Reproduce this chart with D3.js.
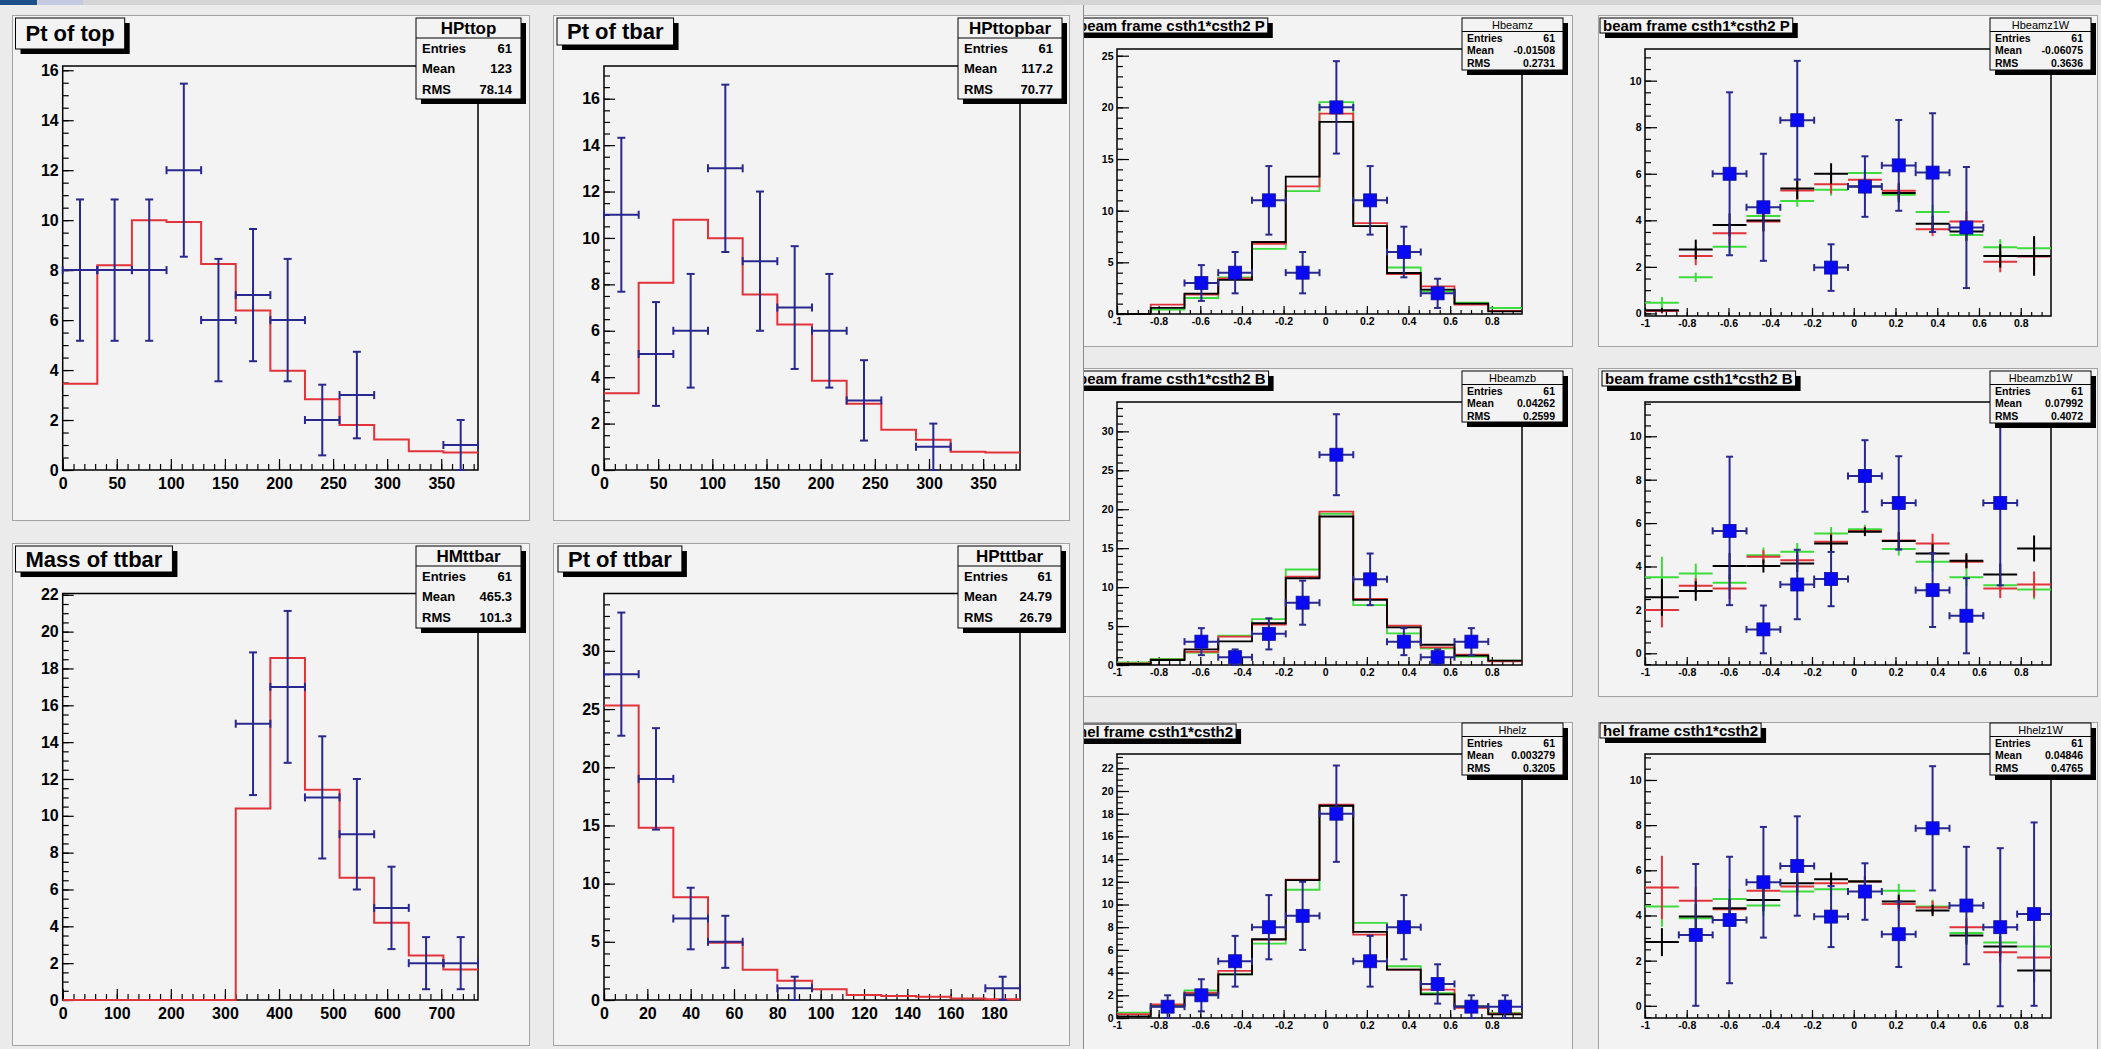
<!DOCTYPE html>
<html>
<head>
<meta charset="utf-8">
<title>ttbar histograms</title>
<script src="https://cdn.jsdelivr.net/npm/d3@7"></script>
<style>
  body { margin: 0; background: #ebebeb; }
  svg { display: block; }
</style>
</head>
<body>
<script>

// left canvas : red = expectation, blue = data counts
const ptTopMC    = [3.45, 8.2, 10.0, 9.93, 8.25, 6.38, 3.97, 2.83, 1.8, 1.22, 0.75, 0.7];
const ptTopData  = [8, 8, 8, 12, 6, 7, 6, 2, 3, 0, 0, 1];
const ptTbarMC   = [3.31, 8.07, 10.78, 9.99, 7.56, 6.27, 3.85, 2.85, 1.73, 1.3, 0.79, 0.75];
const ptTbarData = [11, 5, 6, 13, 9, 7, 6, 3, 0, 1, 0, 0];
const massMC     = [0, 0, 0, 0, 0, 10.4, 18.57, 11.41, 6.64, 4.2, 2.42, 1.65];
const massData   = [0, 0, 0, 0, 0, 15, 17, 11, 9, 5, 2, 2];
const ptTtMC     = [25.3, 14.8, 8.82, 4.93, 2.61, 1.65, 0.93, 0.44, 0.35, 0.29, 0.12, 0.06];
const ptTtData   = [28, 19, 7, 5, 0, 1, 0, 0, 0, 0, 0, 1];

// right canvas, step histograms : three expectations + data counts
const beamzData  = [0, 0, 3, 4, 11, 4, 20, 11, 6, 2, 0, 0];
const beamzBlack = [0, 0.6, 1.97, 3.3, 6.97, 13.3, 18.6, 8.5, 3.97, 2.35, 1.0, 0.25];
const beamzRed   = [0, 0.9, 1.87, 3.45, 6.8, 12.35, 19.4, 8.8, 3.87, 2.68, 0.9, 0.3];
const beamzGreen = [0, 0.42, 1.55, 3.55, 6.3, 11.9, 20.5, 8.5, 4.5, 2.2, 1.1, 0.58];

const beamzbData  = [0, 0, 3, 1, 4, 8, 27, 11, 3, 1, 3, 0];
const beamzbBlack = [0.13, 0.64, 2.0, 3.04, 5.36, 11.14, 19.07, 8.36, 4.84, 2.6, 1.2, 0.56];
const beamzbRed   = [0.2, 0.7, 1.7, 3.64, 5.2, 11.36, 19.7, 8.5, 5.06, 2.27, 1.33, 0.47];
const beamzbGreen = [0.34, 0.77, 1.6, 3.77, 5.9, 12.26, 19.4, 7.7, 4.07, 2.14, 1.07, 0.56];

const helzData  = [0, 1, 2, 5, 8, 9, 18, 5, 8, 3, 1, 1];
const helzBlack = [0.15, 1.03, 2.09, 3.85, 6.94, 12.15, 18.7, 7.59, 4.26, 2.09, 1.03, 0.32];
const helzRed   = [0.35, 1.2, 2.23, 4.15, 6.9, 12.2, 18.8, 7.35, 4.26, 2.5, 0.9, 0.38];
const helzGreen = [0.47, 1.1, 2.44, 3.85, 6.56, 11.3, 18.7, 8.38, 4.56, 2.2, 1.0, 0.44];

// right canvas, weighted versions : values and errors
const beamzWData     = [0, 0, 6.0, 4.56, 8.3, 1.97, 5.45, 6.36, 6.05, 3.69, 0, 0];
const beamzWDataErr  = [0, 0, 3.5, 2.3, 2.55, 1.0, 1.3, 1.95, 2.55, 2.6, 0, 0];
const beamzWBlack    = [0.14, 2.75, 3.8, 3.99, 5.37, 6.0, 5.45, 5.17, 3.85, 3.52, 2.47, 2.47];
const beamzWBlackErr = [0.1, 0.42, 0.5, 0.45, 0.45, 0.45, 0.35, 0.4, 0.35, 0.4, 0.5, 0.85];
const beamzWRed      = [0.1, 2.47, 3.44, 3.95, 5.28, 5.55, 5.74, 5.27, 3.62, 3.95, 2.22, 2.45];
const beamzWRedErr   = [0.1, 0.4, 0.45, 0.45, 0.4, 0.4, 0.35, 0.35, 0.3, 0.45, 0.45, 0.6];
const beamzWGreen    = [0.46, 1.55, 2.87, 4.19, 4.83, 5.31, 6.03, 5.1, 4.36, 3.37, 2.84, 2.8];
const beamzWGreenErr = [0.25, 0.2, 0.3, 0.3, 0.25, 0.25, 0.25, 0.25, 0.3, 0.25, 0.35, 0.35];

const beamzbWData     = [0, 0, 5.64, 1.1, 3.17, 3.42, 8.17, 6.93, 2.91, 1.73, 6.93, 0];
const beamzbWDataErr  = [0, 0, 3.42, 1.1, 1.6, 1.25, 1.65, 2.15, 1.7, 1.73, 3.8, 0];
const beamzbWBlack    = [2.58, 2.87, 4.02, 4.02, 4.14, 5.06, 5.6, 5.17, 4.6, 4.26, 3.63, 4.83];
const beamzbWBlackErr = [0.85, 0.45, 0.6, 0.3, 0.4, 0.4, 0.2, 0.4, 0.45, 0.35, 0.5, 0.6];
const beamzbWRed      = [1.99, 3.11, 2.99, 4.45, 4.29, 5.14, 5.64, 5.2, 5.06, 4.22, 2.99, 3.17];
const beamzbWRedErr   = [0.8, 0.35, 0.5, 0.3, 0.35, 0.4, 0.2, 0.4, 0.45, 0.3, 0.45, 0.6];
const beamzbWGreen    = [3.5, 3.68, 3.25, 4.52, 4.68, 5.52, 5.72, 4.8, 4.22, 3.5, 3.14, 2.94];
const beamzbWGreenErr = [0.95, 0.45, 0.4, 0.35, 0.4, 0.3, 0.2, 0.3, 0.45, 0.4, 0.3, 0.45];

const helzWData     = [0, 3.14, 3.8, 5.47, 6.19, 3.95, 5.06, 3.17, 7.86, 4.44, 3.48, 4.06];
const helzWDataErr  = [0, 3.14, 2.8, 2.45, 2.2, 1.35, 1.25, 1.45, 2.75, 2.6, 3.5, 4.06];
const helzWBlack    = [2.82, 3.95, 4.32, 4.69, 5.43, 5.6, 5.5, 4.62, 4.22, 3.11, 2.63, 1.56];
const helzWBlackErr = [0.62, 0.55, 0.4, 0.5, 0.4, 0.3, 0.25, 0.3, 0.25, 0.4, 0.45, 0.5];
const helzWRed      = [5.24, 4.65, 4.28, 5.1, 5.28, 5.43, 5.5, 4.51, 4.35, 3.48, 2.37, 2.14];
const helzWRedErr   = [1.4, 0.6, 0.4, 0.5, 0.4, 0.3, 0.2, 0.3, 0.3, 0.4, 0.45, 0.55];
const helzWGreen    = [4.4, 3.88, 4.73, 4.44, 5.06, 5.16, 5.53, 5.1, 4.4, 3.22, 2.8, 2.63];
const helzWGreenErr = [0.9, 0.6, 0.45, 0.45, 0.4, 0.3, 0.25, 0.3, 0.3, 0.4, 0.45, 0.5];

// texts of the title and stats boxes
const padTitles = ["Pt of top", "Pt of tbar", "Mass of ttbar", "Pt of ttbar",
    "beam frame csth1*csth2 P", "beam frame csth1*csth2 P",
    "beam frame csth1*csth2 B", "beam frame csth1*csth2 B",
    "hel frame csth1*csth2", "hel frame csth1*csth2"];
const statNames = ["HPttop", "HPttopbar", "HMttbar", "HPtttbar", "Hbeamz", "Hbeamz1W",
    "Hbeamzb", "Hbeamzb1W", "Hhelz", "Hhelz1W"];
const statEntries = ["61", "61", "61", "61", "61", "61", "61", "61", "61", "61"];
const statMeans = ["123", "117.2", "465.3", "24.79", "-0.01508", "-0.06075",
    "0.04262", "0.07992", "0.003279", "0.04846"];
const statRms = ["78.14", "70.77", "101.3", "26.79", "0.2731", "0.3636",
    "0.2599", "0.4072", "0.3205", "0.4765"];

// axis ranges
const ptRange = [0, 384];
const massRange = [0, 768];
const ptttRange = [0, 192];
const cosRange = [-1, 0.945];

const RED = "#e2323a", GREEN = "#3ddc3d", BLACK = "#000000", NAVY = "#28288e", BLUE = "#0a0af2";
const FONT = "'Liberation Sans', Arial, Helvetica, sans-serif";

const leftStyle = {tickFont: 16, xMaj: 11, xMin: 6, yMaj: 11, yMin: 6, xPad: 8, yPad: 4,
    titleFont: 22, titlePad: 10, headFont: 17, headWeight: "bold", rowFont: 13,
    headH: 20, rowH: 20.5, labelX: 6, valueX: 9, cap: 4, marker: 0};
const rightStyle = {tickFont: 10.5, xMaj: 8, xMin: 4, yMaj: 12, yMin: 6, xPad: 4, yPad: 3.5,
    titleFont: 15, titlePad: 3, headFont: 11, headWeight: "normal", rowFont: 10.5,
    headH: 13.5, rowH: 12.5, labelX: 5, valueX: 8, cap: 3.5, marker: 13};

// pad layout (pixels), ranges and what goes in each pad
const pads = [
    {side: "L", pad: [12, 15, 518, 506], frame: [62.7, 66, 478, 470], title: [15.5, 18, 31],
     stats: [416, 18, 105, 81], xDom: ptRange, yDom: [0, 16.17], xStep: [50, 10], yStep: [2, 0.5],
     mode: "step", mc: [{v: ptTopMC, c: RED}], data: ptTopData},
    {side: "L", pad: [553, 15, 517, 506], frame: [604, 66, 1020, 470], title: [557, 18, 27],
     stats: [958, 18, 104, 81], xDom: ptRange, yDom: [0, 17.41], xStep: [50, 10], yStep: [2, 0.5],
     mode: "step", mc: [{v: ptTbarMC, c: RED}], data: ptTbarData},
    {side: "L", pad: [12, 543, 518, 503], frame: [62.7, 593.5, 478, 1000], title: [15.5, 546, 26],
     stats: [416, 546, 105, 82], xDom: massRange, yDom: [0, 22.07], xStep: [100, 20], yStep: [2, 0.5],
     mode: "step", mc: [{v: massMC, c: RED}], data: massData},
    {side: "L", pad: [553, 543, 517, 503], frame: [604, 593.5, 1020, 1000], title: [558, 546, 26],
     stats: [958, 546, 103, 82], xDom: ptttRange, yDom: [0, 34.93], xStep: [20, 5], yStep: [5, 1],
     mode: "step", mc: [{v: ptTtMC, c: RED}], data: ptTtData},

    {side: "R", pad: [1073, 15, 500, 332], frame: [1117, 49, 1522, 314], title: [1075, 18, 15],
     stats: [1462, 18, 101, 52], xDom: cosRange, yDom: [0, 25.65], xStep: [0.2, 0.05], yStep: [5, 1],
     mode: "step", mc: [{v: beamzGreen, c: GREEN}, {v: beamzRed, c: RED}, {v: beamzBlack, c: BLACK}],
     data: beamzData},
    {side: "R", pad: [1598, 15, 500, 332], frame: [1645, 49, 2051, 316], title: [1600, 18, 15],
     stats: [1990, 18, 101, 52], xDom: cosRange, yDom: [-0.11, 11.36], xStep: [0.2, 0.05], yStep: [2, 0.5],
     mode: "cross", mc: [{v: beamzWGreen, e: beamzWGreenErr, c: GREEN}, {v: beamzWRed, e: beamzWRedErr, c: RED},
         {v: beamzWBlack, e: beamzWBlackErr, c: BLACK}], data: beamzWData, dataErr: beamzWDataErr},
    {side: "R", pad: [1073, 368, 500, 329], frame: [1117, 402, 1522, 665], title: [1075, 371, 15],
     stats: [1462, 371, 101, 51], xDom: cosRange, yDom: [0, 33.77], xStep: [0.2, 0.05], yStep: [5, 1],
     mode: "step", mc: [{v: beamzbGreen, c: GREEN}, {v: beamzbRed, c: RED}, {v: beamzbBlack, c: BLACK}],
     data: beamzbData},
    {side: "R", pad: [1598, 368, 500, 329], frame: [1645, 402, 2051, 665], title: [1602, 371, 15],
     stats: [1990, 371, 101, 52], xDom: cosRange, yDom: [-0.54, 11.58], xStep: [0.2, 0.05], yStep: [2, 0.5],
     mode: "cross", mc: [{v: beamzbWGreen, e: beamzbWGreenErr, c: GREEN}, {v: beamzbWRed, e: beamzbWRedErr, c: RED},
         {v: beamzbWBlack, e: beamzbWBlackErr, c: BLACK}], data: beamzbWData, dataErr: beamzbWDataErr},
    {side: "R", pad: [1073, 722, 500, 340], frame: [1117, 754, 1522, 1018], title: [1075, 724, 15],
     stats: [1462, 723, 101, 52], xDom: cosRange, yDom: [0, 23.26], xStep: [0.2, 0.05], yStep: [2, 0.5],
     mode: "step", mc: [{v: helzGreen, c: GREEN}, {v: helzRed, c: RED}, {v: helzBlack, c: BLACK}],
     data: helzData},
    {side: "R", pad: [1598, 722, 500, 340], frame: [1645, 754, 2051, 1018], title: [1600, 723, 15],
     stats: [1990, 723, 101, 52], xDom: cosRange, yDom: [-0.54, 11.15], xStep: [0.2, 0.05], yStep: [2, 0.5],
     mode: "cross", mc: [{v: helzWGreen, e: helzWGreenErr, c: GREEN}, {v: helzWRed, e: helzWRedErr, c: RED},
         {v: helzWBlack, e: helzWBlackErr, c: BLACK}], data: helzWData, dataErr: helzWDataErr}
];

const svg = d3.select("body").append("svg").attr("width", 2101).attr("height", 1049)
    .attr("font-family", FONT);

// window background and strip at the top
svg.append("rect").attr("width", 2101).attr("height", 1049).attr("fill", "#ebebeb");
svg.append("rect").attr("width", 2101).attr("height", 5).attr("fill", "#d5d5d5");
svg.append("rect").attr("width", 37).attr("height", 5).attr("fill", "#1c4f87");
svg.append("rect").attr("x", 38).attr("width", 45).attr("height", 5).attr("fill", "#c4cadf");

pads.forEach(makePad);

// edge of the left window hides the start of the right canvas
svg.append("rect").attr("x", 1071).attr("y", 5).attr("width", 12).attr("height", 1044).attr("fill", "#ececec");
svg.append("line").attr("x1", 1083.5).attr("x2", 1083.5).attr("y1", 5).attr("y2", 1049)
    .attr("stroke", "#8c8c8c");

function stepsIn(dom, step) {
    const a = Math.ceil(dom[0] / step - 1e-6), b = Math.floor(dom[1] / step + 1e-6);
    return d3.range(a, b + 1).map(k => +(k * step).toFixed(4));
}

function makePad(p, idx) {
    const st = p.side === "L" ? leftStyle : rightStyle;
    const clipId = "padclip" + idx;
    svg.append("clipPath").attr("id", clipId).append("rect")
        .attr("x", p.pad[0]).attr("y", p.pad[1]).attr("width", p.pad[2]).attr("height", p.pad[3]);
    const g = svg.append("g").attr("clip-path", "url(#" + clipId + ")");

    g.append("rect").attr("x", p.pad[0] + 0.5).attr("y", p.pad[1] + 0.5)
        .attr("width", p.pad[2] - 1).attr("height", p.pad[3] - 1)
        .attr("fill", "#f3f3f3").attr("stroke", "#a3a3a3");

    const x = d3.scaleLinear().domain(p.xDom).range([p.frame[0], p.frame[2]]);
    const y = d3.scaleLinear().domain(p.yDom).range([p.frame[3], p.frame[1]]);
    const edges = d3.range(13).map(k => p.xDom[0] + k * (p.xDom[1] - p.xDom[0]) / 12);

    //frame
    g.append("rect").attr("x", x(p.xDom[0])).attr("y", y(p.yDom[1]))
        .attr("width", x(p.xDom[1]) - x(p.xDom[0])).attr("height", y(p.yDom[0]) - y(p.yDom[1]))
        .attr("fill", "none").attr("stroke", BLACK).attr("stroke-width", 1.5);

    drawAxes(g, p, st, x, y);

    if (p.mode === "step") {
        p.mc.forEach(s => drawSteps(g, x, y, edges, s.v, s.c, p.side === "L" ? 2 : 1.8));
    } else {
        p.mc.forEach(s => drawCrosses(g, x, y, edges, s.v, s.e, s.c));
    }
    drawPoints(g, x, y, edges, p.data, p.dataErr, st);

    drawTitle(g, p, st, padTitles[idx]);
    drawStats(g, p, st, idx);
}

function drawAxes(g, p, st, x, y) {
    const fmt = d => String(+d.toFixed(2));
    const bottom = y.range()[0], left = x.range()[0];

    const ax = g.append("g").attr("transform", "translate(0," + bottom + ")");
    ax.append("g").call(d3.axisBottom(x).tickValues(stepsIn(p.xDom, p.xStep[1]))
        .tickSizeInner(-st.xMin).tickSizeOuter(0).tickFormat(""));
    ax.append("g").call(d3.axisBottom(x).tickValues(stepsIn(p.xDom, p.xStep[0]))
        .tickSizeInner(-st.xMaj).tickSizeOuter(0).tickPadding(st.xPad).tickFormat(fmt));

    const ay = g.append("g").attr("transform", "translate(" + left + ",0)");
    ay.append("g").call(d3.axisLeft(y).tickValues(stepsIn(p.yDom, p.yStep[1]))
        .tickSizeInner(-st.yMin).tickSizeOuter(0).tickFormat(""));
    ay.append("g").call(d3.axisLeft(y).tickValues(stepsIn(p.yDom, p.yStep[0]))
        .tickSizeInner(-st.yMaj).tickSizeOuter(0).tickPadding(st.yPad).tickFormat(fmt));

    [ax, ay].forEach(a => {
        a.selectAll(".domain").remove();
        a.selectAll("line").attr("stroke", BLACK).attr("stroke-width", 1.2);
        a.selectAll("text").attr("font-family", FONT).attr("font-size", st.tickFont)
            .attr("font-weight", "bold").attr("fill", BLACK);
    });
}

function drawSteps(g, x, y, edges, vals, color, width) {
    const pts = vals.map((v, i) => [edges[i], v]).concat([[edges[12], vals[11]]]);
    g.append("path").datum(pts)
        .attr("d", d3.line().x(d => x(d[0])).y(d => y(d[1])).curve(d3.curveStepAfter))
        .attr("fill", "none").attr("stroke", color).attr("stroke-width", width);
}

function drawCrosses(g, x, y, edges, vals, errs, color) {
    const pts = vals.map((v, i) => ({v: v, e: errs[i], lo: edges[i], hi: edges[i + 1]}));
    const cg = g.append("g").attr("stroke", color).attr("stroke-width", 2);
    cg.selectAll("line.h").data(pts).join("line").attr("class", "h")
        .attr("x1", d => x(d.lo)).attr("x2", d => x(d.hi))
        .attr("y1", d => y(d.v)).attr("y2", d => y(d.v));
    cg.selectAll("line.v").data(pts).join("line").attr("class", "v")
        .attr("x1", d => x((d.lo + d.hi) / 2)).attr("x2", d => x((d.lo + d.hi) / 2))
        .attr("y1", d => y(d.v - d.e)).attr("y2", d => y(d.v + d.e));
}

function drawPoints(g, x, y, edges, vals, errs, st) {
    //counts get poisson errors, weighted ones have their own
    const pts = vals.map((v, i) => ({v: v, e: errs ? errs[i] : Math.sqrt(v), lo: edges[i], hi: edges[i + 1]}))
        .filter(d => d.v > 0);
    const c = st.cap;
    const mid = d => x((d.lo + d.hi) / 2);
    const eg = g.append("g").attr("stroke", NAVY).attr("stroke-width", 2);

    eg.selectAll("line.h").data(pts).join("line").attr("class", "h")
        .attr("x1", d => x(d.lo)).attr("x2", d => x(d.hi))
        .attr("y1", d => y(d.v)).attr("y2", d => y(d.v));
    eg.selectAll("line.v").data(pts).join("line").attr("class", "v")
        .attr("x1", mid).attr("x2", mid)
        .attr("y1", d => y(d.v - d.e)).attr("y2", d => y(d.v + d.e));
    eg.selectAll("line.cl").data(pts).join("line").attr("class", "cl")
        .attr("x1", d => x(d.lo)).attr("x2", d => x(d.lo))
        .attr("y1", d => y(d.v) - c).attr("y2", d => y(d.v) + c);
    eg.selectAll("line.cr").data(pts).join("line").attr("class", "cr")
        .attr("x1", d => x(d.hi)).attr("x2", d => x(d.hi))
        .attr("y1", d => y(d.v) - c).attr("y2", d => y(d.v) + c);
    eg.selectAll("line.ct").data(pts).join("line").attr("class", "ct")
        .attr("x1", d => mid(d) - c).attr("x2", d => mid(d) + c)
        .attr("y1", d => y(d.v + d.e)).attr("y2", d => y(d.v + d.e));
    eg.selectAll("line.cb").data(pts).join("line").attr("class", "cb")
        .attr("x1", d => mid(d) - c).attr("x2", d => mid(d) + c)
        .attr("y1", d => y(d.v - d.e)).attr("y2", d => y(d.v - d.e));

    if (st.marker > 0) {
        const m = st.marker;
        g.append("g").selectAll("rect").data(pts).join("rect")
            .attr("x", d => mid(d) - m / 2).attr("y", d => y(d.v) - m / 2)
            .attr("width", m).attr("height", m)
            .attr("fill", BLUE).attr("stroke", "#10109a").attr("stroke-width", 0.8);
    }
}

function drawTitle(g, p, st, text) {
    const tg = g.append("g");
    const t = tg.append("text")
        .attr("x", p.title[0] + st.titlePad)
        .attr("y", p.title[1] + p.title[2] / 2 + st.titleFont * 0.36)
        .attr("font-size", st.titleFont).attr("font-weight", "bold").attr("fill", BLACK)
        .text(text);
    const w = t.node().getComputedTextLength() + 2 * st.titlePad;
    tg.insert("rect", "text").attr("x", p.title[0] + 5).attr("y", p.title[1] + 5)
        .attr("width", w).attr("height", p.title[2]).attr("fill", BLACK);
    tg.insert("rect", "text").attr("x", p.title[0]).attr("y", p.title[1])
        .attr("width", w).attr("height", p.title[2])
        .attr("fill", "#f3f3f3").attr("stroke", BLACK).attr("stroke-width", 1);
}

function drawStats(g, p, st, idx) {
    const b = p.stats;
    const sg = g.append("g");
    sg.append("rect").attr("x", b[0] + 5).attr("y", b[1] + 5).attr("width", b[2]).attr("height", b[3])
        .attr("fill", BLACK);
    sg.append("rect").attr("x", b[0]).attr("y", b[1]).attr("width", b[2]).attr("height", b[3])
        .attr("fill", "#f3f3f3").attr("stroke", BLACK).attr("stroke-width", 1);
    sg.append("line").attr("x1", b[0]).attr("x2", b[0] + b[2])
        .attr("y1", b[1] + st.headH).attr("y2", b[1] + st.headH)
        .attr("stroke", BLACK).attr("stroke-width", 1);
    sg.append("text").attr("x", b[0] + b[2] / 2).attr("y", b[1] + st.headH / 2 + st.headFont * 0.36)
        .attr("text-anchor", "middle").attr("font-size", st.headFont).attr("font-weight", st.headWeight)
        .text(statNames[idx]);

    const rows = [["Entries", statEntries[idx]], ["Mean", statMeans[idx]], ["RMS", statRms[idx]]];
    rows.forEach((r, i) => {
        const cy = b[1] + st.headH + st.rowH * (i + 0.5) + st.rowFont * 0.36;
        sg.append("text").attr("x", b[0] + st.labelX).attr("y", cy)
            .attr("font-size", st.rowFont).attr("font-weight", "bold").text(r[0]);
        sg.append("text").attr("x", b[0] + b[2] - st.valueX).attr("y", cy)
            .attr("text-anchor", "end").attr("font-size", st.rowFont).attr("font-weight", "bold").text(r[1]);
    });
}
</script>
</body>
</html>
